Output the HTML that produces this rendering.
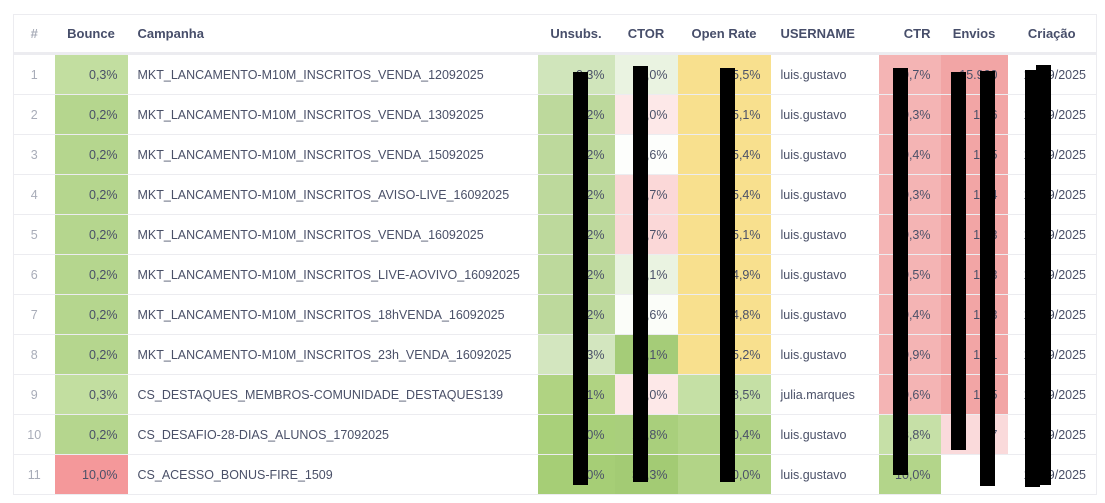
<!DOCTYPE html>
<html><head><meta charset="utf-8"><style>
body{margin:0;background:#fff;width:1105px;height:503px;overflow:hidden;position:relative;font-family:"Liberation Sans",sans-serif;color:#4a5068;font-size:12.5px}
table{position:absolute;left:13px;top:14px;border-collapse:collapse;table-layout:fixed;border:1px solid #ececf0}
td,th{height:39px;padding:0 10px;white-space:nowrap;overflow:hidden;border-bottom:1px solid #ececf0}
th{font-weight:bold;color:#474e6a;height:37px;border-bottom:3px solid #ececf0;font-size:13px;text-align:center}
td.n,th.n{text-align:center;color:#a8acb8;padding:0}
td.r{text-align:right}
.b{position:absolute;background:#000;width:15px}
</style></head><body>
<table>
<colgroup><col style="width:41px"><col style="width:73px"><col style="width:410px"><col style="width:77px"><col style="width:63px"><col style="width:93px"><col style="width:108px"><col style="width:62px"><col style="width:67px"><col style="width:89px"></colgroup>
<tr><th class="n">#</th><th>Bounce</th><th style="text-align:left">Campanha</th><th>Unsubs.</th><th>CTOR</th><th>Open Rate</th><th style="text-align:left">USERNAME</th><th style="text-align:right">CTR</th><th>Envios</th><th>Criação</th></tr>
<tr><td class="n">1</td><td class="r" style="background:#c2dea0">0,3%</td><td>MKT_LANCAMENTO-M10M_INSCRITOS_VENDA_12092025</td><td class="r" style="background:#d0e5bb">0,3%</td><td class="r" style="background:#eaf3e1">0,0%</td><td class="r" style="background:#f8e08e">5,5%</td><td>luis.gustavo</td><td class="r" style="background:#f4b4b4">0,7%</td><td class="r" style="background:#f2a5a5">15.900</td><td class="r">16/09/2025</td></tr>
<tr><td class="n">2</td><td class="r" style="background:#b5d68e">0,2%</td><td>MKT_LANCAMENTO-M10M_INSCRITOS_VENDA_13092025</td><td class="r" style="background:#bdd99c">0,2%</td><td class="r" style="background:#fde8e8">0,0%</td><td class="r" style="background:#f8e08e">5,1%</td><td>luis.gustavo</td><td class="r" style="background:#f4b4b4">0,3%</td><td class="r" style="background:#f2a5a5">15.6</td><td class="r">16/09/2025</td></tr>
<tr><td class="n">3</td><td class="r" style="background:#b5d68e">0,2%</td><td>MKT_LANCAMENTO-M10M_INSCRITOS_VENDA_15092025</td><td class="r" style="background:#bdd99c">0,2%</td><td class="r" style="background:#fdfefc">0,6%</td><td class="r" style="background:#f8e08e">5,4%</td><td>luis.gustavo</td><td class="r" style="background:#f4b4b4">0,4%</td><td class="r" style="background:#f2a5a5">15.5</td><td class="r">16/09/2025</td></tr>
<tr><td class="n">4</td><td class="r" style="background:#b5d68e">0,2%</td><td>MKT_LANCAMENTO-M10M_INSCRITOS_AVISO-LIVE_16092025</td><td class="r" style="background:#bdd99c">0,2%</td><td class="r" style="background:#fbd8d8">0,7%</td><td class="r" style="background:#f8e08e">5,4%</td><td>luis.gustavo</td><td class="r" style="background:#f4b4b4">0,3%</td><td class="r" style="background:#f2a5a5">15.4</td><td class="r">16/09/2025</td></tr>
<tr><td class="n">5</td><td class="r" style="background:#b5d68e">0,2%</td><td>MKT_LANCAMENTO-M10M_INSCRITOS_VENDA_16092025</td><td class="r" style="background:#bdd99c">0,2%</td><td class="r" style="background:#fbd8d8">0,7%</td><td class="r" style="background:#f8e08e">5,1%</td><td>luis.gustavo</td><td class="r" style="background:#f4b4b4">0,3%</td><td class="r" style="background:#f2a5a5">15.3</td><td class="r">16/09/2025</td></tr>
<tr><td class="n">6</td><td class="r" style="background:#b5d68e">0,2%</td><td>MKT_LANCAMENTO-M10M_INSCRITOS_LIVE-AOVIVO_16092025</td><td class="r" style="background:#bdd99c">0,2%</td><td class="r" style="background:#eaf3e1">1,1%</td><td class="r" style="background:#f8e08e">4,9%</td><td>luis.gustavo</td><td class="r" style="background:#f4b4b4">0,5%</td><td class="r" style="background:#f2a5a5">15.3</td><td class="r">16/09/2025</td></tr>
<tr><td class="n">7</td><td class="r" style="background:#b5d68e">0,2%</td><td>MKT_LANCAMENTO-M10M_INSCRITOS_18hVENDA_16092025</td><td class="r" style="background:#bdd99c">0,2%</td><td class="r" style="background:#fbfdf9">0,6%</td><td class="r" style="background:#f8e08e">4,8%</td><td>luis.gustavo</td><td class="r" style="background:#f4b4b4">0,4%</td><td class="r" style="background:#f2a5a5">15.3</td><td class="r">16/09/2025</td></tr>
<tr><td class="n">8</td><td class="r" style="background:#b5d68e">0,2%</td><td>MKT_LANCAMENTO-M10M_INSCRITOS_23h_VENDA_16092025</td><td class="r" style="background:#d3e6bf">0,3%</td><td class="r" style="background:#a5cc78">8,1%</td><td class="r" style="background:#f8e08e">5,2%</td><td>luis.gustavo</td><td class="r" style="background:#f4b4b4">0,9%</td><td class="r" style="background:#f2a5a5">15.1</td><td class="r">16/09/2025</td></tr>
<tr><td class="n">9</td><td class="r" style="background:#c2dea0">0,3%</td><td>CS_DESTAQUES_MEMBROS-COMUNIDADE_DESTAQUES139</td><td class="r" style="background:#b0d382">0,1%</td><td class="r" style="background:#fde8e8">0,0%</td><td class="r" style="background:#c5e0a5">8,5%</td><td>julia.marques</td><td class="r" style="background:#f4b4b4">0,6%</td><td class="r" style="background:#f2a5a5">14.5</td><td class="r">16/09/2025</td></tr>
<tr><td class="n">10</td><td class="r" style="background:#b5d68e">0,2%</td><td>CS_DESAFIO-28-DIAS_ALUNOS_17092025</td><td class="r" style="background:#a9d07a">0,0%</td><td class="r" style="background:#a9cf7c">18,8%</td><td class="r" style="background:#b2d487">20,4%</td><td>luis.gustavo</td><td class="r" style="background:#c6e0a7">3,8%</td><td class="r" style="background:#fadadb">3.7</td><td class="r">17/09/2025</td></tr>
<tr><td class="n">11</td><td class="r" style="background:#f4989a">10,0%</td><td>CS_ACESSO_BONUS-FIRE_1509</td><td class="r" style="background:#a6ce76">0,0%</td><td class="r" style="background:#a3cb74">33,3%</td><td class="r" style="background:#b2d487">30,0%</td><td>luis.gustavo</td><td class="r" style="background:#b3d58a">10,0%</td><td class="r"></td><td class="r">15/09/2025</td></tr>
</table>
<div class="b" style="left:573px;top:72px;height:413px"></div>
<div class="b" style="left:633px;top:66px;height:416px"></div>
<div class="b" style="left:720px;top:68px;height:414px"></div>
<div class="b" style="left:893px;top:68px;height:407px"></div>
<div class="b" style="left:951px;top:72px;height:378px"></div>
<div class="b" style="left:980px;top:71px;height:415px"></div>
<div class="b" style="left:1025px;top:70px;height:417px"></div>
<div class="b" style="left:1036px;top:65px;height:420px"></div>
</body></html>
